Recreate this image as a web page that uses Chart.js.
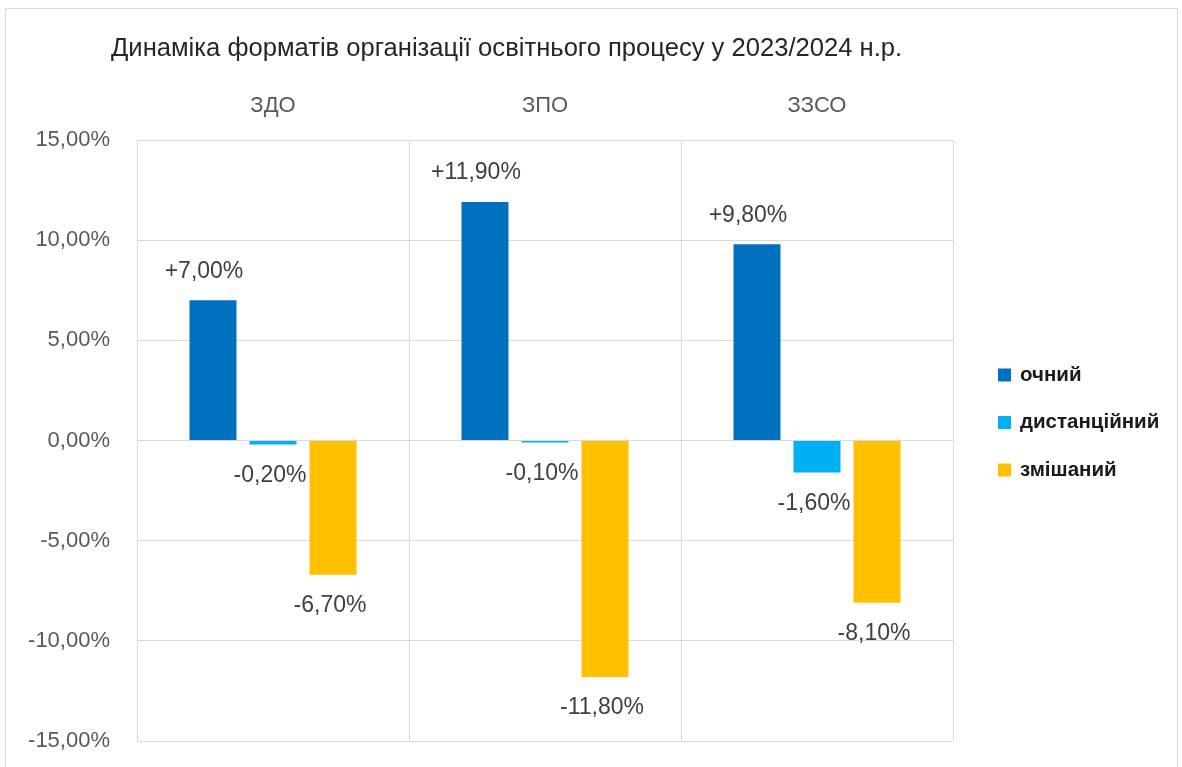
<!DOCTYPE html>
<html><head><meta charset="utf-8">
<script src="https://cdn.jsdelivr.net/npm/chart.js@4/dist/chart.umd.min.js"></script>
<style>html,body{margin:0;padding:0;background:#fff;overflow:hidden}canvas{display:block}</style>
</head><body><canvas id="c" width="1182" height="767"></canvas>
<script>
// ---- data ----
const chartTitle = 'Динаміка форматів організації освітнього процесу у 2023/2024 н.р.';
const categories = ['ЗДО', 'ЗПО', 'ЗЗСО'];
const seriesNames = ['очний', 'дистанційний', 'змішаний'];
const ochnyi = [7.0, 11.9, 9.8];
const dystantsiinyi = [-0.2, -0.1, -1.6];
const zmishanyi = [-6.7, -11.8, -8.1];
const yMin = -15, yMax = 15, yStep = 5;
const seriesColors = ['#0070C0', '#00B0F0', '#FFC000'];

const FONT = '"Liberation Sans", Arial, sans-serif';
const fmtTick = v => v.toFixed(2).replace('.', ',') + '%';
const fmtLabel = v => (v > 0 ? '+' : '') + v.toFixed(2).replace('.', ',') + '%';

const frame = {
  id: 'frame',
  beforeDraw(chart) {
    const ctx = chart.ctx;
    ctx.save();
    ctx.fillStyle = '#fff';
    ctx.fillRect(0, 0, chart.width, chart.height);
    ctx.strokeStyle = '#d9d9d9';
    ctx.lineWidth = 1;
    ctx.strokeRect(5.5, 8.5, 1172, 800);
    ctx.restore();
  },
  afterDraw(chart) {
    const ctx = chart.ctx;
    ctx.save();
    // title
    ctx.font = '25.6px ' + FONT;
    ctx.fillStyle = '#262626';
    ctx.textAlign = 'left';
    ctx.textBaseline = 'middle';
    ctx.fillText(chartTitle, 111, 49);
    // legend
    const ca = chart.chartArea;
    const gap = 47.5;
    const firstY = ca.top + 235;
    chart.data.datasets.forEach((ds, i) => {
      const y = firstY + gap * i;
      ctx.fillStyle = ds.backgroundColor;
      ctx.fillRect(ca.right + 45, y - 6.5, 13, 13);
      ctx.fillStyle = '#1a1a1a';
      ctx.font = 'bold 20.5px ' + FONT;
      ctx.fillText(ds.label, ca.right + 67, y);
    });
    // data labels
    ctx.font = '23px ' + FONT;
    ctx.fillStyle = '#404040';
    ctx.textAlign = 'center';
    chart.data.datasets.forEach((ds, di) => {
      const meta = chart.getDatasetMeta(di);
      meta.data.forEach((bar, j) => {
        const v = ds.data[j];
        if (v >= 0) ctx.fillText(fmtLabel(v), bar.x - 9, bar.y - 29);
        else ctx.fillText(fmtLabel(v), bar.x - 3, bar.y + 31);
      });
    });
    ctx.restore();
  }
};

new Chart(document.getElementById('c'), {
  type: 'bar',
  data: {
    labels: categories,
    datasets: [
      { label: seriesNames[0], data: ochnyi, backgroundColor: seriesColors[0] },
      { label: seriesNames[1], data: dystantsiinyi, backgroundColor: seriesColors[1] },
      { label: seriesNames[2], data: zmishanyi, backgroundColor: seriesColors[2] }
    ]
  },
  options: {
    responsive: false,
    animation: false,
    devicePixelRatio: 1,
    categoryPercentage: 0.662,
    barPercentage: 0.783,
    layout: { padding: { top: 80, right: 229, bottom: 26, left: 0 } },
    plugins: { legend: { display: false }, title: { display: false }, tooltip: { enabled: false } },
    scales: {
      x: {
        position: 'top',
        grid: { color: '#d9d9d9', offset: true, drawTicks: false, lineWidth: 1 },
        border: { display: false },
        ticks: { font: { family: FONT, size: 22 }, color: '#595959', padding: 21 },
        afterFit(s) { s.height = 60; s.paddingLeft = 0; s.paddingRight = 0; }
      },
      y: {
        min: yMin, max: yMax,
        grid: { color: '#d9d9d9', drawTicks: false, lineWidth: 1 },
        border: { display: false },
        ticks: { stepSize: yStep, callback: v => fmtTick(v), font: { family: FONT, size: 22 }, color: '#595959', padding: 27 },
        afterFit(s) { s.width = 137; s.paddingTop = 0; s.paddingBottom = 0; }
      }
    }
  },
  plugins: [frame]
});
</script></body></html>
